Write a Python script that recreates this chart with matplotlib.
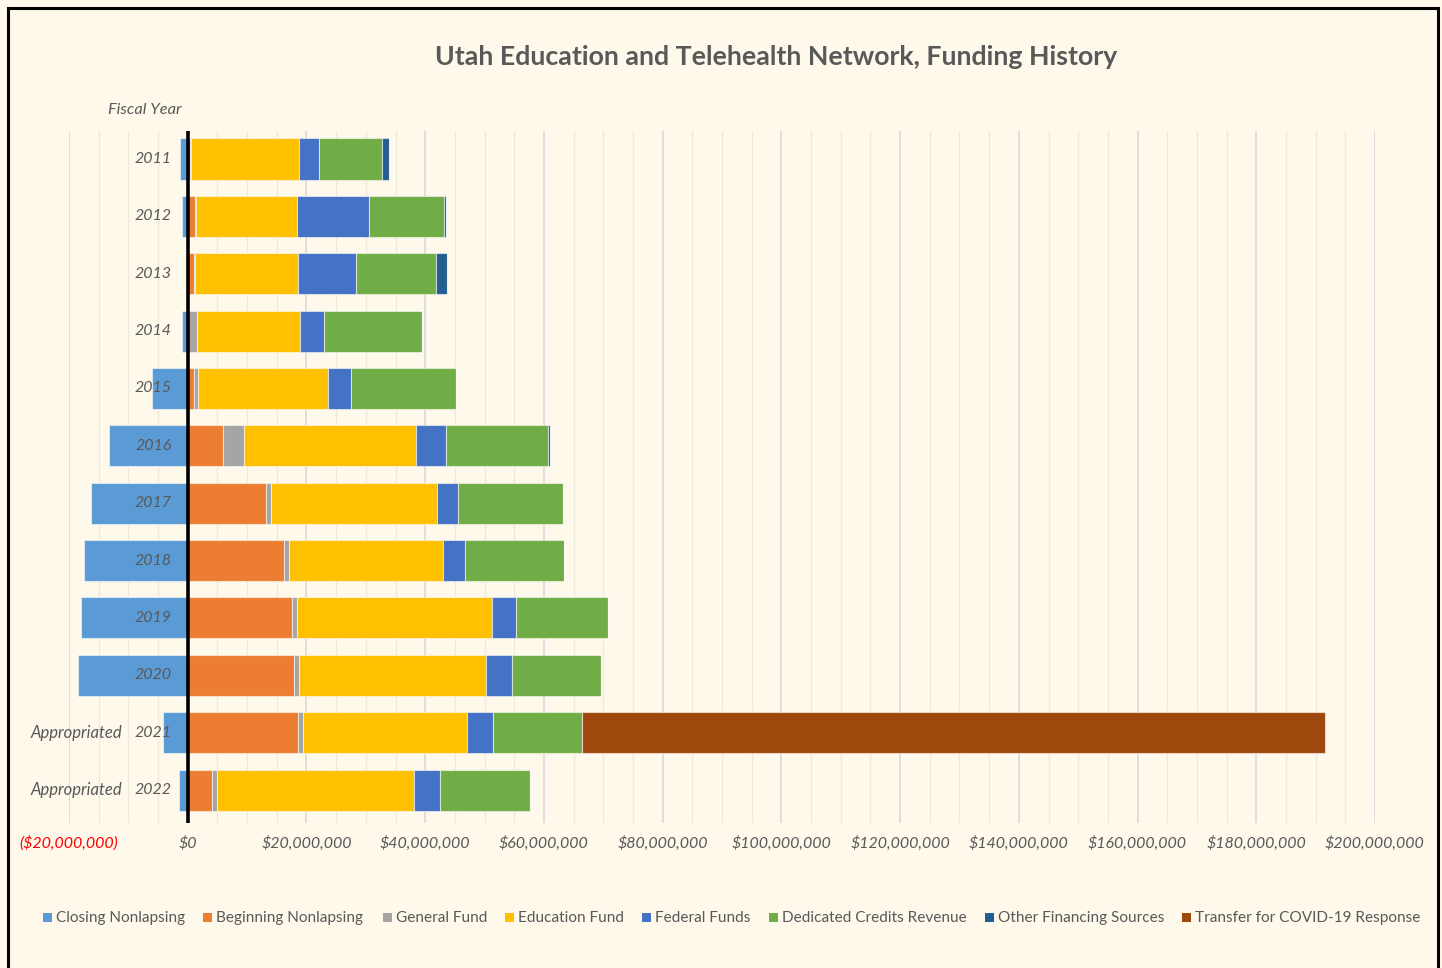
import matplotlib
matplotlib.use("Agg")
import matplotlib.pyplot as plt
from matplotlib.patches import Rectangle
from matplotlib.ticker import FuncFormatter, MultipleLocator
import numpy as np

plt.rcParams['font.family'] = ['Lato', 'DejaVu Sans']

# ---- data (millions of dollars) ----
years = ["2011", "2012", "2013", "2014", "2015", "2016", "2017", "2018", "2019", "2020", "2021", "2022"]
prefixes = ["", "", "", "", "", "", "", "", "", "", "Appropriated", "Appropriated"]
closing_nonlapsing = [-1.35, -1.0, 0.0, -1.0, -6.05, -13.2, -16.3, -17.5, -18.0, -18.5, -4.1, -1.5]
beginning_nonlapsing = [0.3, 1.2, 1.0, 0.0, 1.0, 5.9, 13.2, 16.3, 17.6, 17.9, 18.6, 4.1]
general_fund = [0.2, 0.2, 0.2, 1.5, 0.8, 3.5, 0.8, 0.7, 0.8, 0.8, 0.8, 0.8]
education_fund = [18.25, 17.0, 17.3, 17.4, 21.8, 29.1, 28.0, 26.0, 32.9, 31.5, 27.7, 33.3]
federal_funds = [3.3, 12.2, 9.9, 4.0, 3.9, 5.0, 3.6, 3.7, 4.0, 4.4, 4.3, 4.3]
dedicated_credits = [10.7, 12.6, 13.5, 16.5, 17.7, 17.2, 17.7, 16.7, 15.5, 15.1, 15.1, 15.1]
other_financing = [1.1, 0.35, 1.8, 0.0, 0.0, 0.3, 0.0, 0.0, 0.0, 0.0, 0.0, 0.0]
covid_transfer = [0, 0, 0, 0, 0, 0, 0, 0, 0, 0, 125.0, 0]

series_names = ["Closing Nonlapsing", "Beginning Nonlapsing", "General Fund", "Education Fund",
                "Federal Funds", "Dedicated Credits Revenue", "Other Financing Sources",
                "Transfer for COVID-19 Response"]
colors = ["#5B9BD5", "#ED7D31", "#A5A5A5", "#FFC000", "#4472C4", "#70AD47", "#255E91", "#9E480E"]

BG = "#FFF9EB"
W, H = 1442, 968
fig = plt.figure(figsize=(W / 100, H / 100), dpi=100, facecolor=BG)

ax_l, ax_r, ax_t, ax_b = 69, 1375, 131, 823
ax = fig.add_axes([ax_l / W, 1 - ax_b / H, (ax_r - ax_l) / W, (ax_b - ax_t) / H])
ax.set_facecolor(BG)

ypos = np.arange(len(years))
bh = 0.715
M = 1e6
edge = dict(edgecolor=(1, 1, 1, 0.55), linewidth=0.8)

# negative series
ax.barh(ypos, np.array(closing_nonlapsing) * M, left=0, height=bh, color=colors[0], zorder=3, **edge)
# positive stack
left = np.zeros(len(years))
for vals, col in zip([beginning_nonlapsing, general_fund, education_fund, federal_funds,
                      dedicated_credits, other_financing, covid_transfer], colors[1:]):
    v = np.array(vals) * M
    ax.barh(ypos, v, left=left, height=bh, color=col, zorder=3, **edge)
    left = left + v

ax.set_xlim(-20 * M, 200 * M)
ax.set_ylim(11.575, -0.488)

# grid
ax.xaxis.set_major_locator(MultipleLocator(20 * M))
ax.xaxis.set_minor_locator(MultipleLocator(5 * M))
ax.grid(axis='x', which='major', color='#D9D9D9', linewidth=1.2, zorder=0)
ax.grid(axis='x', which='minor', color='#EEEADB', linewidth=1.0, zorder=0)
ax.set_axisbelow(True)

def fmt(v, pos):
    v = int(round(v))
    if v == 0:
        return "$0"
    if v < 0:
        return "(${:,})".format(-v)
    return "${:,}".format(v)

ax.xaxis.set_major_formatter(FuncFormatter(fmt))
ax.tick_params(axis='x', which='both', length=0, pad=9, labelsize=11.5, labelcolor='#595959')
fig.canvas.draw()
for t, lab in zip(ax.get_xticks(), ax.get_xticklabels()):
    if t < 0:
        lab.set_color('#FF0000')
    lab.set_fontstyle('italic')

ax.set_yticks([])
for s in ax.spines.values():
    s.set_visible(False)

# zero line
ax.axvline(0, color='black', linewidth=2.6, zorder=5)

# category labels
for i, (yr, pre) in enumerate(zip(years, prefixes)):
    ax.text(-2.7 * M, i, yr, ha='right', va='center', fontsize=11.5, style='italic',
            color='#595959', zorder=6)
    if pre:
        ax.text(-11.1 * M, i, pre, ha='right', va='center', fontsize=12, style='italic',
                color='#595959', zorder=6)

fig.text(182 / W, 1 - 110 / H, "Fiscal Year", ha='right', va='center', fontsize=11.8,
         style='italic', color='#595959')

# title
fig.text(776 / W, 1 - 57 / H, "Utah Education and Telehealth Network, Funding History",
         ha='center', va='center', fontsize=19.3, fontweight='bold', color='#595959')

# legend (manual)
leg_x = [43, 203, 383, 505, 642, 769, 985, 1182]
leg_y = 918
for x, name, col in zip(leg_x, series_names, colors):
    fig.patches.append(Rectangle((x / W, 1 - (leg_y + 3.5) / H), 9 / W, 9 / H,
                                 transform=fig.transFigure, facecolor=col, edgecolor='none'))
    fig.text((x + 13) / W, 1 - leg_y / H, name, ha='left', va='center', fontsize=11.1,
             color='#595959')

# outer frame
fig.patches.append(Rectangle((8 / W, -0.02), (1438 - 8) / W, 1 - 8 / H + 0.02,
                             transform=fig.transFigure, facecolor='none', edgecolor='black',
                             linewidth=2.2))

fig.savefig("out.png", dpi=100, facecolor=BG)
